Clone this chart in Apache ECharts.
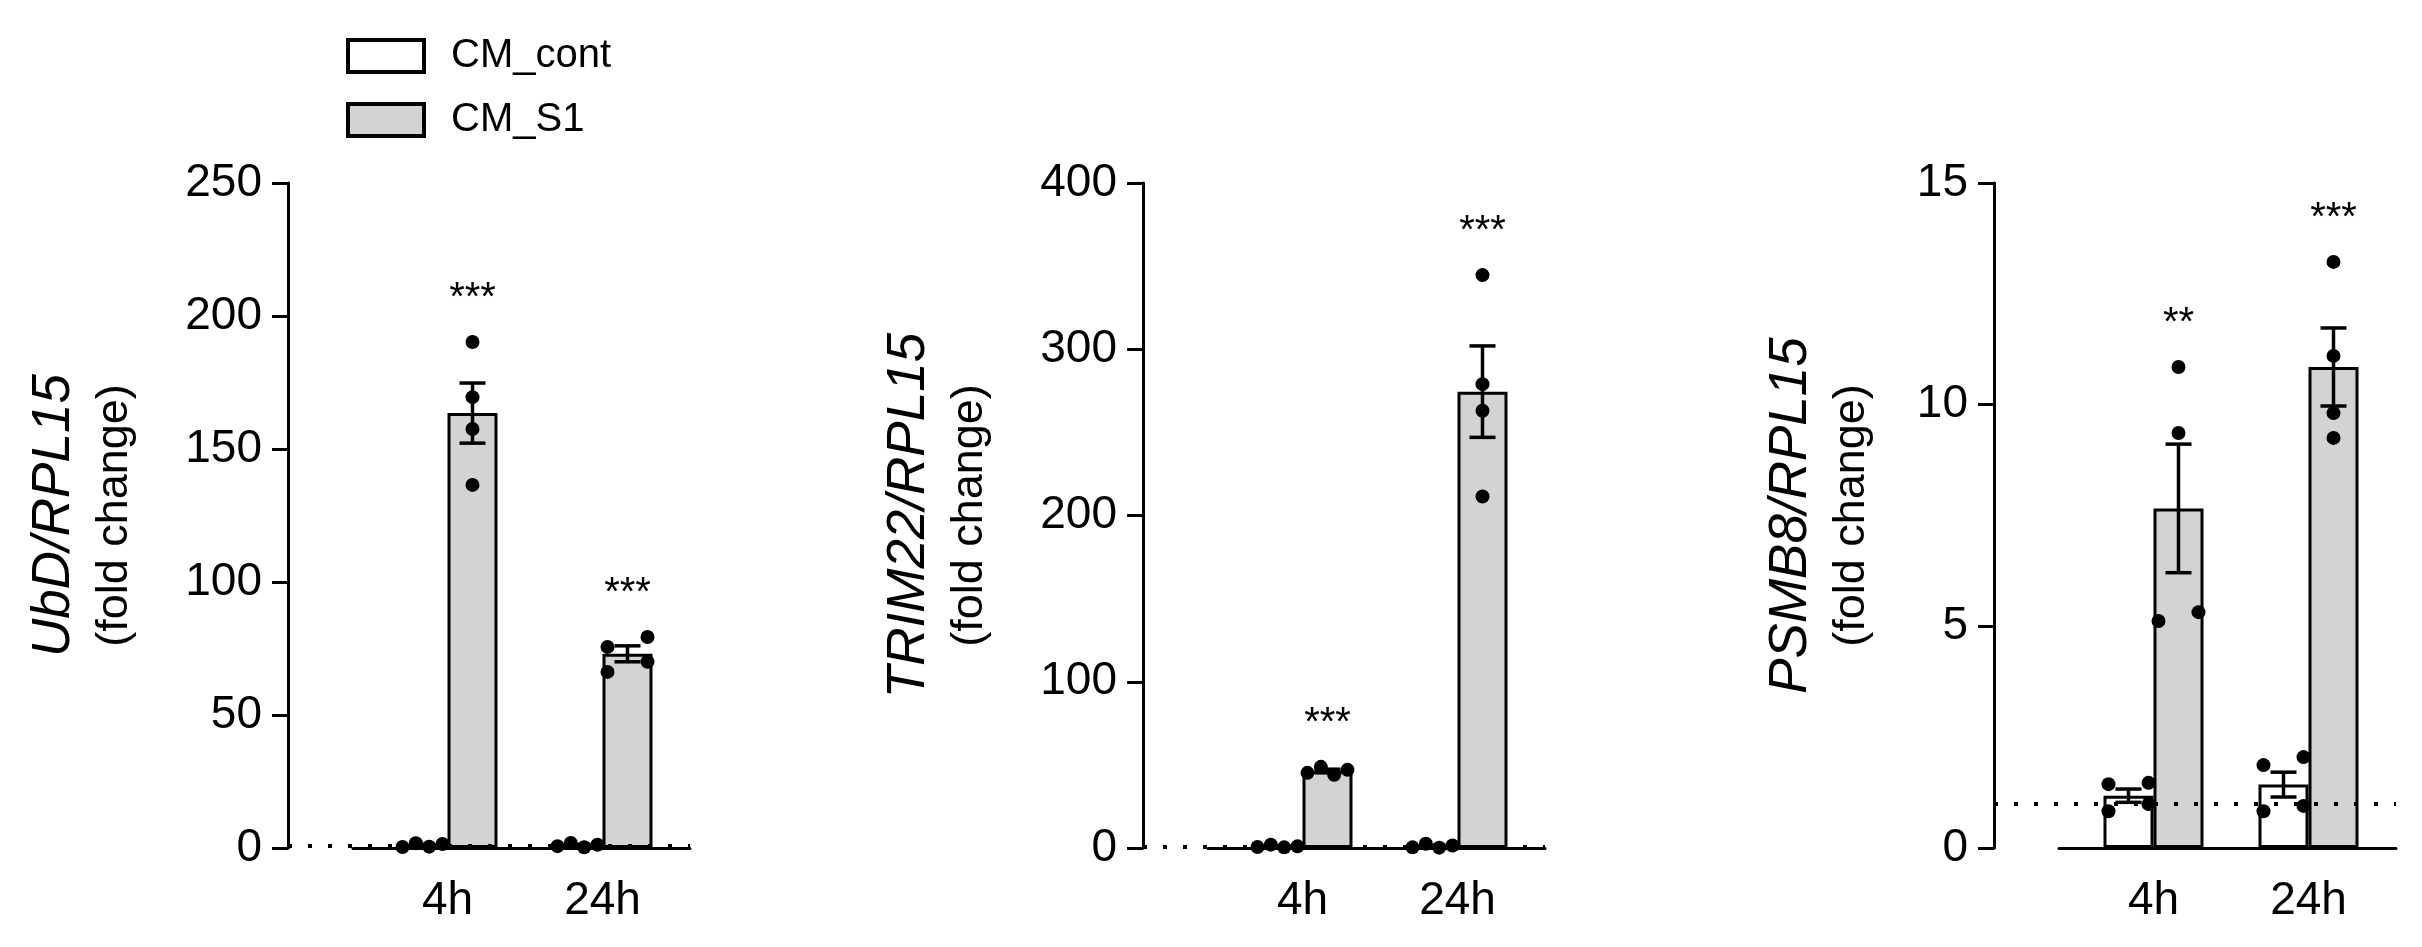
<!DOCTYPE html>
<html>
<head>
<meta charset="utf-8">
<script src="https://cdn.jsdelivr.net/npm/echarts/dist/echarts.min.js"></script>
<style>
  html, body { margin: 0; padding: 0; background: #fff; }
  #chart { width: 2422px; height: 947px; }
</style>
</head>
<body>
<div id="chart"></div>
<script>
// ---- data ----
const timePoints = ["4h", "24h"];
const groupNames = ["CM_cont", "CM_S1"];

// UbD/RPL15
const ubdAxis = [0, 250, 50]; // min, max, interval
const ubdContDots = [[0.4, 1.8, 0.5, 1.5], [0.7, 1.9, 0.3, 1.2]];
const ubdS1Dots = [[190.2, 169.5, 157.5, 136.5], [75.6, 79.3, 66.2, 70.0]];
const ubdContMean = [1.05, 1.0];
const ubdContSem = [0.3, 0.35];
const ubdS1Mean = [163.5, 73.0];
const ubdS1Sem = [11.3, 3.0];
const ubdSig = ["***", "***"];

// TRIM22/RPL15
const trimAxis = [0, 400, 100];
const trimContDots = [[0.6, 2.0, 0.4, 1.0], [0.4, 2.6, 0.2, 1.5]];
const trimS1Dots = [[45.2, 48.8, 44.0, 47.0], [344.6, 279.0, 263.0, 211.4]];
const trimContMean = [1.0, 1.2];
const trimContSem = [0.35, 0.5];
const trimS1Mean = [46.3, 274.5];
const trimS1Sem = [1.1, 27.5];
const trimSig = ["***", "***"];

// PSMB8/RPL15
const psmbAxis = [0, 15, 5];
const psmbContDots = [[1.44, 1.47, 0.83, 0.99], [1.87, 2.05, 0.83, 0.95]];
const psmbS1Dots = [[10.85, 9.36, 5.12, 5.32], [13.22, 11.1, 9.81, 9.25]];
const psmbContMean = [1.18, 1.43];
const psmbContSem = [0.15, 0.28];
const psmbS1Mean = [7.66, 10.85];
const psmbS1Sem = [1.45, 0.88];
const psmbSig = ["**", "***"];

// ---- layout ----
const FONT = '"Liberation Sans", Arial, sans-serif';
const axisX = [288, 1143, 1994]; // y-axis line of each panel
const nameGaps = [145, 145, 114];
const GRID_TOP = 183;
const GRID_H = 665;
const BAND = 155;
const CAT_LEFT = 82;
const XLINE_LEFT = 65;
const PANEL_W = 402;
const BAR_W = 50;
const CAP = 26;
const DOT_R = 7;
const DOT_GAP = 13;
const SPREAD = 20;
const STAR_LIFT = 43;

const panels = [
  { title: "UbD/RPL15", axis: ubdAxis, dots: [ubdContDots, ubdS1Dots], mean: [ubdContMean, ubdS1Mean], sem: [ubdContSem, ubdS1Sem], sig: ubdSig },
  { title: "TRIM22/RPL15", axis: trimAxis, dots: [trimContDots, trimS1Dots], mean: [trimContMean, trimS1Mean], sem: [trimContSem, trimS1Sem], sig: trimSig },
  { title: "PSMB8/RPL15", axis: psmbAxis, dots: [psmbContDots, psmbS1Dots], mean: [psmbContMean, psmbS1Mean], sem: [psmbContSem, psmbS1Sem], sig: psmbSig },
];

function groupOffset(g) {
  return (g === 0 ? -1 : 1) * BAR_W / 2;
}

// spread overlapping dots sideways (GraphPad-like scatter)
function dotRenderer(points) {
  return function (params, api) {
    const p = points[params.dataIndex];
    const same = points.filter((q) => q.cat === p.cat && q.group === p.group);
    const ys = same.map((q) => api.coord([q.cat, q.value])[1]);
    const order = same.map((q, i) => i).sort((a, b) => ys[a] - ys[b]);
    const cluster = [];
    let cid = 0;
    order.forEach((k, j) => {
      if (j > 0 && ys[k] - ys[order[j - 1]] >= DOT_GAP) cid++;
      cluster[k] = cid;
    });
    const me = same.indexOf(p);
    const mates = same.map((q, i) => i).filter((i) => cluster[i] === cluster[me]);
    const n = mates.length;
    const dx = n === 1 ? 0 : -SPREAD + (2 * SPREAD * mates.indexOf(me)) / (n - 1);
    const c = api.coord([p.cat, p.value]);
    return {
      type: "circle",
      shape: { cx: c[0] + groupOffset(p.group) + dx, cy: c[1], r: DOT_R },
      style: { fill: "#000" },
    };
  };
}

const grid = [], xAxis = [], yAxis = [], series = [];

panels.forEach((p, i) => {
  const x0 = axisX[i];
  const a = 3 * i, b = a + 1, c = a + 2;
  const [ymin, ymax, step] = p.axis;

  grid.push({ left: x0 + CAT_LEFT, top: GRID_TOP, width: BAND * timePoints.length, height: GRID_H });
  grid.push({ left: x0 + XLINE_LEFT, top: GRID_TOP, width: PANEL_W - XLINE_LEFT, height: GRID_H });
  grid.push({ left: x0, top: GRID_TOP, width: PANEL_W, height: GRID_H });

  xAxis.push({
    gridIndex: a, type: "category", data: timePoints,
    axisLine: { show: false }, axisTick: { show: false },
    axisLabel: { fontSize: 46, color: "#000", margin: 30, fontFamily: FONT },
  });
  xAxis.push({
    gridIndex: b, type: "value", min: 0, max: 1,
    axisLine: { show: true, onZero: false, lineStyle: { color: "#000", width: 3 } },
    axisTick: { show: false }, axisLabel: { show: false }, splitLine: { show: false },
  });
  xAxis.push({ gridIndex: c, type: "value", min: 0, max: 1, show: false });

  yAxis.push({
    gridIndex: a, type: "value", min: ymin, max: ymax, interval: step, offset: CAT_LEFT,
    name: "{t|" + p.title + "}\n{f|(fold change)}",
    nameLocation: "middle", nameRotate: 90, nameGap: nameGaps[i],
    nameTextStyle: {
      color: "#000",
      rich: {
        t: { fontStyle: "italic", fontSize: 53, lineHeight: 66, fontFamily: FONT, color: "#000" },
        f: { fontSize: 45, lineHeight: 56, fontFamily: FONT, color: "#000" },
      },
    },
    axisLine: { show: true, lineStyle: { color: "#000", width: 3 } },
    axisTick: { show: true, length: 16, lineStyle: { color: "#000", width: 3 } },
    axisLabel: { fontSize: 46, color: "#000", margin: 26, fontFamily: FONT },
    splitLine: { show: false },
  });
  yAxis.push({ gridIndex: b, type: "value", min: ymin, max: ymax, show: false });
  yAxis.push({ gridIndex: c, type: "value", min: ymin, max: ymax, show: false });

  // dotted reference line at fold change = 1
  series.push({
    type: "line", xAxisIndex: c, yAxisIndex: c, data: [], z: 1, silent: true,
    markLine: {
      silent: true, symbol: "none", label: { show: false },
      lineStyle: { color: "#000", width: 4, type: [4, 16] },
      data: [{ yAxis: 1 }],
    },
  });

  // bars
  [0, 1].forEach((g) => {
    series.push({
      name: groupNames[g], type: "bar", xAxisIndex: a, yAxisIndex: a,
      data: p.mean[g], barWidth: BAR_W, barGap: "0%", z: 2,
      itemStyle: { color: g === 0 ? "#fff" : "#d3d3d3", borderColor: "#000", borderWidth: 3 },
    });
  });

  // error bars (mean ± SEM)
  const errData = [];
  [0, 1].forEach((g) => {
    timePoints.forEach((t, k) => errData.push([k, p.mean[g][k], p.sem[g][k], g]));
  });
  series.push({
    type: "custom", xAxisIndex: a, yAxisIndex: a, z: 3, silent: true,
    data: errData, encode: { x: 0, y: 1 },
    renderItem: (params, api) => {
      const cat = api.value(0), m = api.value(1), s = api.value(2), g = api.value(3);
      const top = api.coord([cat, m + s]);
      const bot = api.coord([cat, m - s]);
      const x = top[0] + groupOffset(g);
      const style = { stroke: "#000", lineWidth: 3.5 };
      return {
        type: "group",
        children: [
          { type: "line", shape: { x1: x, y1: top[1], x2: x, y2: bot[1] }, style },
          { type: "line", shape: { x1: x - CAP / 2, y1: top[1], x2: x + CAP / 2, y2: top[1] }, style },
          { type: "line", shape: { x1: x - CAP / 2, y1: bot[1], x2: x + CAP / 2, y2: bot[1] }, style },
        ],
      };
    },
  });

  // individual points
  const points = [];
  [0, 1].forEach((g) => {
    p.dots[g].forEach((vals, k) => vals.forEach((v) => points.push({ cat: k, group: g, value: v })));
  });
  series.push({
    type: "custom", xAxisIndex: a, yAxisIndex: a, z: 4, silent: true,
    data: points.map((q) => [q.cat, q.value]), encode: { x: 0, y: 1 },
    renderItem: dotRenderer(points),
  });

  // significance stars above CM_S1
  const sigData = timePoints.map((t, k) => [k, Math.max(Math.max(...p.dots[1][k]), p.mean[1][k] + p.sem[1][k])]);
  series.push({
    type: "custom", xAxisIndex: a, yAxisIndex: a, z: 5, silent: true,
    data: sigData, encode: { x: 0, y: 1 },
    renderItem: (params, api) => {
      const pt = api.coord([api.value(0), api.value(1)]);
      return {
        type: "text",
        style: {
          text: p.sig[params.dataIndex], x: pt[0] + groupOffset(1), y: pt[1] - STAR_LIFT,
          align: "center", verticalAlign: "middle",
          fontSize: 40, fontFamily: FONT, fill: "#000",
        },
      };
    },
  });
});

const option = {
  animation: false,
  backgroundColor: "#fff",
  textStyle: { fontFamily: FONT },
  legend: {
    data: groupNames, orient: "vertical", left: 341, top: 31,
    itemWidth: 76, itemHeight: 32, itemGap: 24, icon: "rect", selectedMode: false,
    itemStyle: { borderColor: "#000", borderWidth: 4 },
    textStyle: { fontSize: 40, color: "#000", fontFamily: FONT, padding: [0, 0, 0, 22] },
  },
  grid, xAxis, yAxis, series,
};

const chart = echarts.init(document.getElementById("chart"));
chart.setOption(option);
window.addEventListener("resize", () => chart.resize());
</script>
</body>
</html>
